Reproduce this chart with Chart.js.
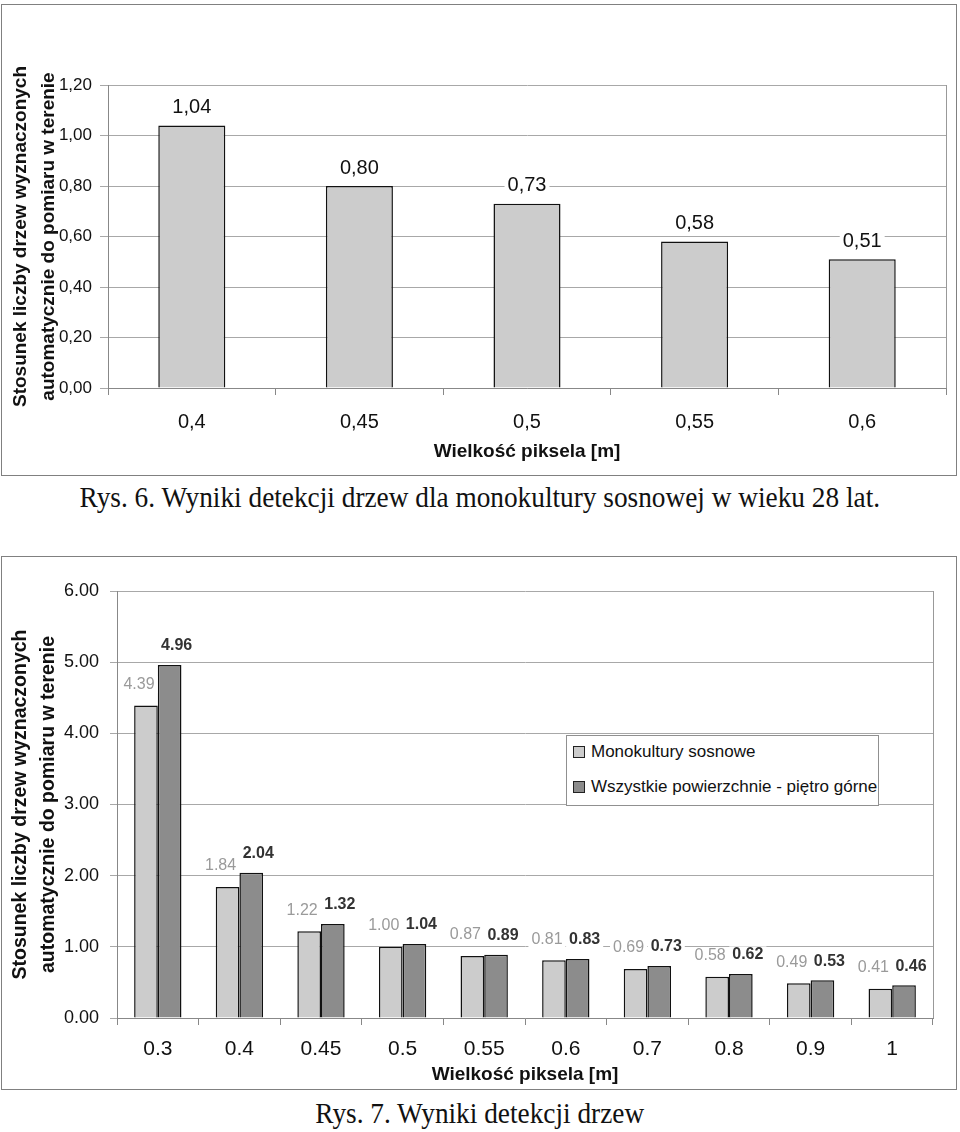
<!DOCTYPE html>
<html>
<head>
<meta charset="utf-8">
<script src="https://cdn.jsdelivr.net/npm/chart.js@4.4.1/dist/chart.umd.min.js"></script>
<style>
    body { margin: 0; background: #fff; width: 960px; height: 1132px; position: relative; overflow: hidden; }
    .frame { position: absolute; left: 1px; width: 954px; border: 1px solid #808080; background: #fff; }
    .caption { position: absolute; left: 0; width: 960px; text-align: center; font-family: "Liberation Serif", serif; font-size: 30px; color: #111; line-height: 34px; }
    .caption span { display: inline-block; transform: scaleX(0.91); transform-origin: center; white-space: nowrap; }
    #legend { position: absolute; left: 566px; top: 735px; width: 311px; height: 69px; border: 1px solid #909090; background: #fff;
              font-family: "Liberation Sans", Arial, sans-serif; font-size: 17px; color: #111; }
    #legend .item { position: absolute; left: 6px; height: 20px; line-height: 20px; white-space: nowrap; }
    #legend .box { display: inline-block; width: 10px; height: 10px; border: 1px solid #222; margin-right: 6px; vertical-align: -1px; }
</style>
</head>
<body>

<div class="frame" style="top:4px;height:470px;"><canvas id="chart6" width="954" height="470"></canvas></div>
<div class="caption" style="top:480px;"><span>Rys. 6. Wyniki detekcji drzew dla monokultury sosnowej w wieku 28 lat.</span></div>

<div class="frame" style="top:556px;height:532px;"><canvas id="chart7" width="954" height="532"></canvas></div>
<div id="legend"></div>
<div class="caption" style="top:1096px;"><span>Rys. 7. Wyniki detekcji drzew</span></div>

<script>
// Rys. 6 - monokultura sosnowa 28 lat
const pixelSizes6 = ['0,4', '0,45', '0,5', '0,55', '0,6'];
const ratios6 = [1.04, 0.80, 0.73, 0.58, 0.51];

// Rys. 7 - wszystkie powierzchnie
const pixelSizes7 = ['0.3', '0.4', '0.45', '0.5', '0.55', '0.6', '0.7', '0.8', '0.9', '1'];
const monoculture = [4.39, 1.84, 1.22, 1.00, 0.87, 0.81, 0.69, 0.58, 0.49, 0.41];
const allSurfaces = [4.96, 2.04, 1.32, 1.04, 0.89, 0.83, 0.73, 0.62, 0.53, 0.46];
const seriesNames7 = ['Monokultury sosnowe', 'Wszystkie powierzchnie - piętro górne'];

const yTitle = ['Stosunek liczby drzew wyznaczonych', 'automatycznie do pomiaru w terenie'];
const xTitle = 'Wielkość piksela [m]';

const SANS = '"Liberation Sans", Arial, sans-serif';

// value labels on top of bars, with white background like in Excel
const valueLabels = {
    id: 'valueLabels',
    afterDatasetsDraw(chart, args, opts) {
        const ctx = chart.ctx;
        const items = [];
        chart.data.datasets.forEach((ds, i) => {
            const st = opts.styles[i];
            chart.getDatasetMeta(i).data.forEach((bar, j) => {
                ctx.font = st.font;
                const text = opts.format(ds.data[j]);
                items.push({ st, text, x: bar.x + st.dx, y: bar.y - st.dy, w: ctx.measureText(text).width });
            });
        });
        ctx.save();
        // backgrounds first, so no box hides another label
        ctx.fillStyle = '#fff';
        items.forEach(it => ctx.fillRect(it.x - it.w / 2 - 3, it.y - it.st.h / 2, it.w + 6, it.st.h));
        ctx.textAlign = 'center';
        ctx.textBaseline = 'middle';
        items.forEach(it => {
            ctx.font = it.st.font;
            ctx.fillStyle = it.st.color;
            ctx.fillText(it.text, it.x, it.y);
        });
        ctx.restore();
    }
};

// right edge of the plot area
const plotFrame = {
    id: 'plotFrame',
    beforeDatasetsDraw(chart) {
        const a = chart.chartArea;
        const ctx = chart.ctx;
        ctx.save();
        ctx.strokeStyle = '#999';
        ctx.lineWidth = 1;
        ctx.beginPath();
        ctx.moveTo(Math.round(a.right) + 0.5, a.top);
        ctx.lineTo(Math.round(a.right) + 0.5, a.bottom);
        ctx.stroke();
        ctx.restore();
    }
};

new Chart(document.getElementById('chart6'), {
    type: 'bar',
    data: {
        labels: pixelSizes6,
        datasets: [{
            label: 'Rys. 6',
            data: ratios6,
            backgroundColor: '#cccccc',
            borderColor: '#111',
            borderWidth: 1.5,
            categoryPercentage: 1,
            barPercentage: 0.4
        }]
    },
    options: {
        responsive: false,
        animation: false,
        layout: { padding: { top: 80, right: 10, left: 0, bottom: 0 } },
        plugins: {
            legend: { display: false },
            tooltip: { enabled: false },
            valueLabels: {
                format: v => v.toFixed(2).replace('.', ','),
                styles: [{ font: '20px ' + SANS, color: '#111', dx: 0, dy: 18, h: 20 }]
            }
        },
        scales: {
            x: {
                afterFit(scale) { scale.height = 87; },
                grid: { drawOnChartArea: false, tickLength: 7, color: '#888' },
                border: { color: '#888' },
                ticks: { padding: 15, color: '#111', font: { family: SANS, size: 20 } },
                title: { display: true, text: xTitle, color: '#111', padding: { top: 0, bottom: 12 },
                         font: { family: SANS, size: 19, weight: 'bold' } }
            },
            y: {
                min: 0, max: 1.2,
                afterFit(scale) { scale.width = 106; },
                grid: { color: '#a8a8a8', tickLength: 8 },
                border: { color: '#888' },
                ticks: { stepSize: 0.2, padding: 8, color: '#111', font: { family: SANS, size: 17 },
                         callback: v => v.toFixed(2).replace('.', ',') },
                title: { display: true, text: yTitle, color: '#111', padding: { top: 5, bottom: 0 },
                         font: { family: SANS, size: 19, weight: 'bold', lineHeight: 28 / 19 } }
            }
        }
    },
    plugins: [valueLabels, plotFrame]
});

const chart7 = new Chart(document.getElementById('chart7'), {
    type: 'bar',
    data: {
        labels: pixelSizes7,
        datasets: [{
            label: seriesNames7[0],
            data: monoculture,
            backgroundColor: '#cccccc',
            borderColor: '#111',
            borderWidth: 1.5,
            categoryPercentage: 0.58,
            barPercentage: 1
        }, {
            label: seriesNames7[1],
            data: allSurfaces,
            backgroundColor: '#8c8c8c',
            borderColor: '#111',
            borderWidth: 1.5,
            categoryPercentage: 0.58,
            barPercentage: 1
        }]
    },
    options: {
        responsive: false,
        animation: false,
        layout: { padding: { top: 34, right: 23, left: 0, bottom: 0 } },
        plugins: {
            legend: { display: false },
            tooltip: { enabled: false },
            valueLabels: {
                format: v => v.toFixed(2),
                styles: [
                    { font: '16px ' + SANS, color: '#9a9a9a', dx: -7, dy: 21, h: 17 },
                    { font: 'bold 16px ' + SANS, color: '#333', dx: 7, dy: 19, h: 17 }
                ]
            }
        },
        scales: {
            x: {
                afterFit(scale) { scale.height = 71; },
                grid: { drawOnChartArea: false, tickLength: 7, color: '#888' },
                border: { color: '#888' },
                ticks: { padding: 12, color: '#111', font: { family: SANS, size: 21 } },
                title: { display: true, text: xTitle, color: '#111', padding: { top: 0, bottom: 3 },
                         font: { family: SANS, size: 19, weight: 'bold' } }
            },
            y: {
                min: 0, max: 6,
                afterFit(scale) { scale.width = 115; },
                grid: { color: '#a8a8a8', tickLength: 7 },
                border: { color: '#888' },
                ticks: { stepSize: 1, padding: 11, color: '#111', font: { family: SANS, size: 18 },
                         callback: v => v.toFixed(2) },
                title: { display: true, text: yTitle, color: '#111', padding: { top: 5, bottom: 0 },
                         font: { family: SANS, size: 19.5, weight: 'bold', lineHeight: 28 / 19.5 } }
            }
        }
    },
    plugins: [valueLabels, plotFrame]
});

// legend built from the chart's datasets
const legend = document.getElementById('legend');
chart7.data.datasets.forEach((ds, i) => {
    const item = document.createElement('div');
    item.className = 'item';
    item.style.top = (i === 0 ? 6 : 41) + 'px';
    item.innerHTML = '<span class="box" style="background:' + ds.backgroundColor + '"></span>' + ds.label;
    legend.appendChild(item);
});
</script>
</body>
</html>
